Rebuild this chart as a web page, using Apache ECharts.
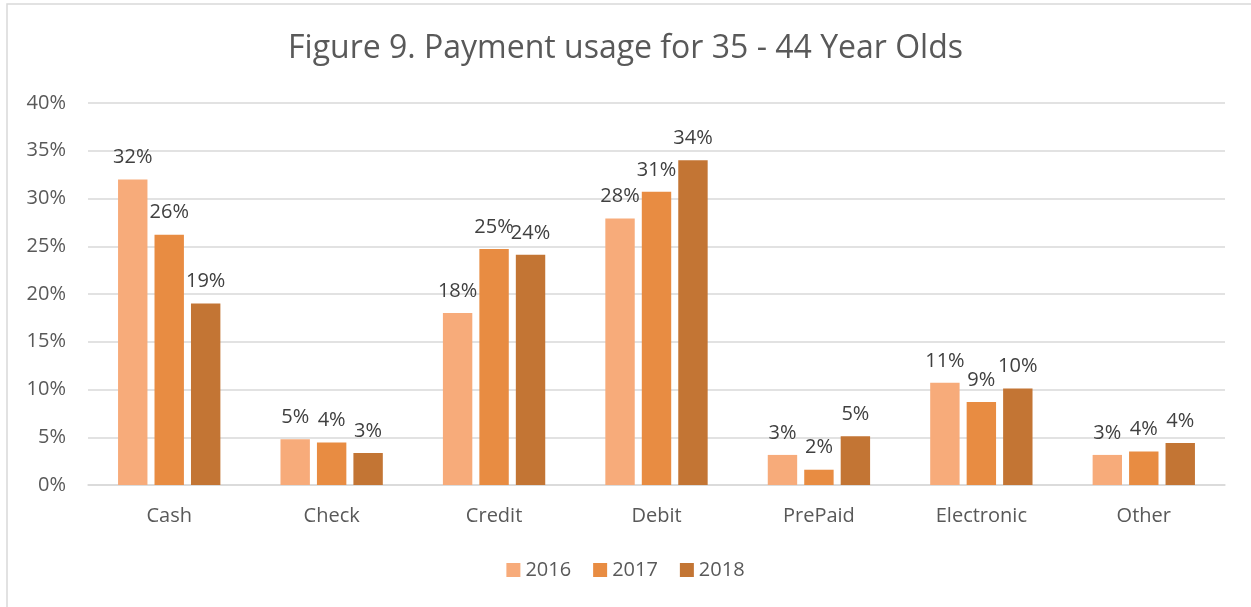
<!DOCTYPE html>
<html>
<head>
<meta charset="utf-8">
<script src="https://cdn.jsdelivr.net/npm/echarts@6/dist/echarts.min.js"></script>
<style>
  html, body { margin: 0; padding: 0; background: #fff; }
  #main { width: 1251px; height: 607px; }
</style>
</head>
<body>
<div id="main"></div>
<script>
// categories and values (percent)
const categories = ['Cash', 'Check', 'Credit', 'Debit', 'PrePaid', 'Electronic', 'Other'];
const years = ['2016', '2017', '2018'];
const v2016 = [32.0, 4.8, 18.0, 27.9, 3.15, 10.7, 3.15];
const v2017 = [26.2, 4.45, 24.7, 30.7, 1.6, 8.7, 3.5];
const v2018 = [19.0, 3.35, 24.1, 34.0, 5.1, 10.1, 4.4];
const colors = ['#F7AB7A', '#E88C42', '#C37534'];

const font = "'Open Sans', 'Liberation Sans', sans-serif";
const chart = echarts.init(document.getElementById('main'));

const makeSeries = (name, data, i) => ({
  name: name,
  type: 'bar',
  data: data,
  barGap: '24%',
  barCategoryGap: '37%',
  itemStyle: { color: colors[i] },
  label: {
    show: true,
    position: 'top',
    distance: 12,
    color: '#404040',
    fontFamily: font,
    fontSize: 20,
    formatter: p => Math.round(p.value) + '%'
  }
});

const option = {
  animation: false,
  backgroundColor: '#fff',
  graphic: [{
    type: 'rect',
    shape: { x: 7, y: 4, width: 1300, height: 700 },
    style: { fill: 'none', stroke: '#d9d9d9', lineWidth: 1.5 },
    silent: true
  }],
  title: {
    text: 'Figure 9. Payment usage for 35 - 44 Year Olds',
    left: 'center',
    top: 28,
    textStyle: { color: '#595959', fontFamily: font, fontSize: 32, fontWeight: 'normal' }
  },
  legend: {
    bottom: 22,
    left: 'center',
    itemWidth: 14,
    itemHeight: 14,
    itemGap: 22,
    icon: 'rect',
    textStyle: { color: '#595959', fontFamily: font, fontSize: 20 },
    data: years
  },
  grid: { left: 88, right: 26, top: 103, bottom: 122 },
  xAxis: {
    type: 'category',
    data: categories,
    axisLine: { lineStyle: { color: '#d9d9d9', width: 1.5 } },
    axisTick: { show: false },
    axisLabel: { color: '#595959', fontFamily: font, fontSize: 20, margin: 21 }
  },
  yAxis: {
    type: 'value',
    min: 0,
    max: 40,
    interval: 5,
    axisLine: { show: false },
    axisTick: { show: false },
    splitLine: { lineStyle: { color: '#d9d9d9', width: 1.5 } },
    axisLabel: { color: '#595959', fontFamily: font, fontSize: 20, margin: 22, formatter: '{value}%' }
  },
  series: [
    makeSeries(years[0], v2016, 0),
    makeSeries(years[1], v2017, 1),
    makeSeries(years[2], v2018, 2)
  ]
};

chart.setOption(option);
</script>
</body>
</html>
